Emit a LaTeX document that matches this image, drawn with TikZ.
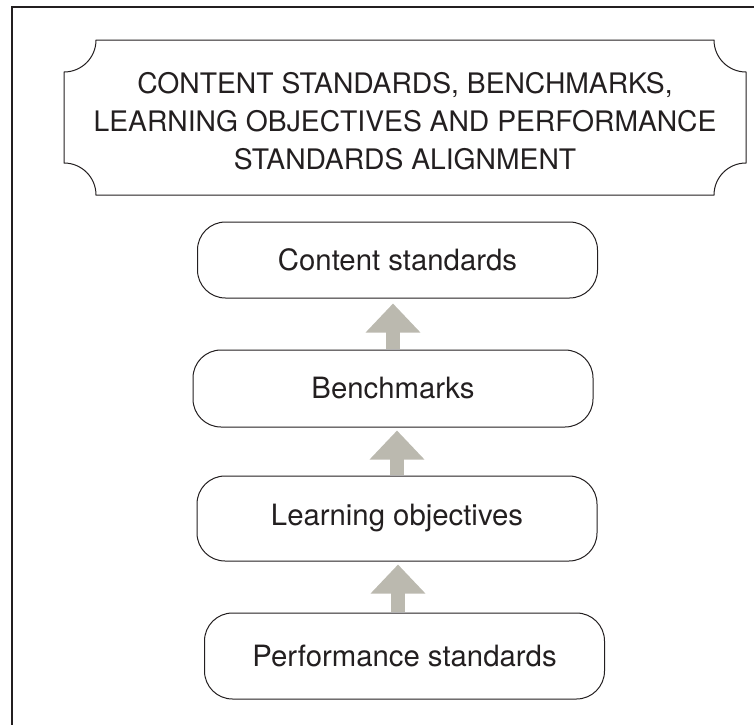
\documentclass[tikz,border=0pt]{standalone}
\usepackage{fontspec}
\setmainfont{TeX Gyre Heros}
\usetikzlibrary{arrows.meta}
\definecolor{ink}{RGB}{35,31,32}
\definecolor{arrowgrey}{RGB}{187,185,175}

\begin{document}
\begin{tikzpicture}[
    x=0.75pt, y=-0.75pt,
    stage/.style={draw=ink, line width=0.75pt, rounded corners=21pt, minimum width=300pt, inner sep=0pt, text=ink, font=\fontsize{22}{26}\selectfont},
    uparrow/.style={arrowgrey, line width=10.5pt, -{Triangle[width=39.75pt, length=21.75pt]}, shorten <=0.4pt}
]
\useasboundingbox (0,0) rectangle (754,725);

% outer frame
\draw[ink, line width=1.5pt] (12,725) -- (12,7) -- (754,7);

% title plaque
\draw[ink, line width=0.75pt] (96,40) -- (714,40)
    arc[start angle=180, end angle=90, radius=32] -- (746,163)
    arc[start angle=270, end angle=180, radius=32] -- (96,195)
    arc[start angle=0, end angle=-90, radius=32] -- (64,72)
    arc[start angle=90, end angle=0, radius=32] -- cycle;
\node[text=ink, align=center, font=\fontsize{21.2}{28.5}\selectfont] (title) at (405,121) {CONTENT STANDARDS, BENCHMARKS,\\LEARNING OBJECTIVES AND PERFORMANCE\\STANDARDS ALIGNMENT};

% stages
\node[stage, minimum height=57pt] (content) at (397.5,260) {Content standards};
\node[stage, minimum height=57.75pt] (bench) at (393,388.5) {Benchmarks};
\node[stage, minimum height=63.75pt] (learn) at (397,518.5) {Learning objectives};
\node[stage, minimum height=64.5pt] (perf) at (404.5,656) {Performance standards};

% arrows
\draw[uparrow, shorten >=3.75pt] (bench.north) -- (bench.north |- content.south);
\draw[uparrow, shorten >=2.25pt] (learn.north) -- (learn.north |- bench.south);
\path (perf.north) ++(-6.5,0) coordinate (p3);
\draw[uparrow, shorten >=2.25pt] (p3) -- (p3 |- learn.south);

\end{tikzpicture}
\end{document}
